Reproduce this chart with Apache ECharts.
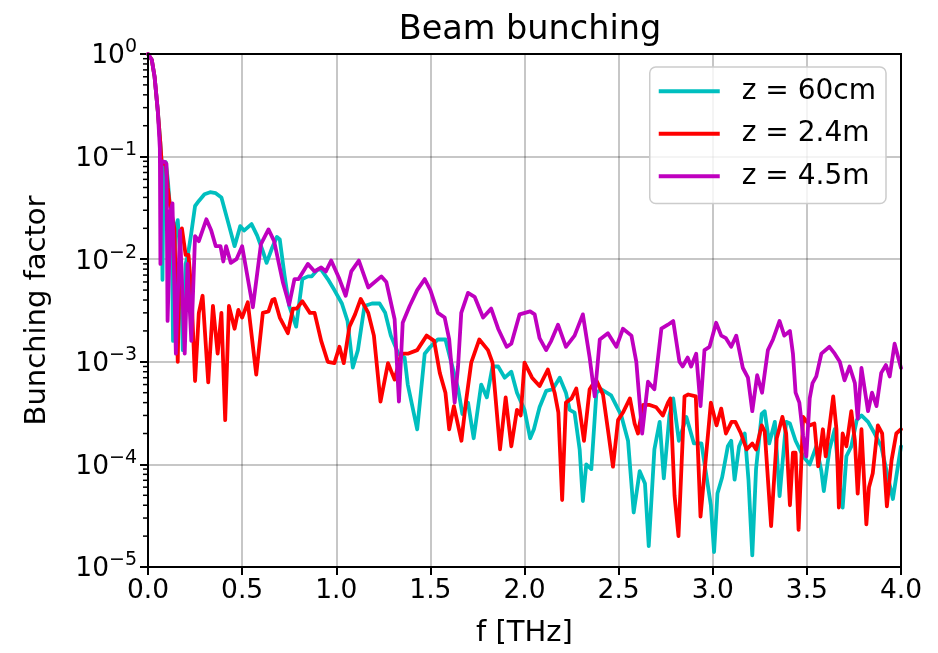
<!DOCTYPE html>
<html>
<head>
<meta charset="utf-8">
<script src="https://cdn.jsdelivr.net/npm/echarts@6/dist/echarts.min.js"></script>
<style>html,body{margin:0;padding:0;background:#fff}#c{width:938px;height:653px}</style>
</head>
<body>
<div id="c"></div>
<script>
// ---- data (f in THz, bunching factor) ----
const seriesNames = ['z = 60cm', 'z = 2.4m', 'z = 4.5m'];
const xTicks = [0, 0.5, 1.0, 1.5, 2.0, 2.5, 3.0, 3.5, 4.0];
const yDecades = [1e-5, 1e-4, 1e-3, 1e-2, 1e-1, 1];

const z60 = [[0,1],[0.01,0.97],[0.02,0.88],[0.035,0.6],[0.052,0.28],[0.065,0.14],[0.072,0.09],[0.077,0.0063],[0.083,0.085],[0.095,0.088],[0.105,0.06],[0.115,0.035],[0.125,0.03],[0.133,0.0016],[0.145,0.02],[0.158,0.024],[0.17,0.012],[0.185,0.0013],[0.2,0.009],[0.212,0.011],[0.23,0.018],[0.25,0.033],[0.27,0.037],[0.3,0.043],[0.33,0.045],[0.36,0.044],[0.39,0.04],[0.42,0.025],[0.46,0.0134],[0.49,0.021],[0.51,0.019],[0.55,0.022],[0.58,0.017],[0.61,0.012],[0.63,0.0092],[0.66,0.013],[0.685,0.0165],[0.7,0.0156],[0.725,0.007],[0.75,0.0035],[0.787,0.0022],[0.82,0.0064],[0.85,0.0068],[0.87,0.0068],[0.9,0.0079],[0.92,0.0079],[0.955,0.0064],[0.99,0.005],[1.03,0.0037],[1.06,0.0025],[1.088,0.00088],[1.115,0.0013],[1.15,0.0035],[1.19,0.0037],[1.23,0.0037],[1.26,0.003],[1.29,0.0018],[1.33,0.0012],[1.363,0.0011],[1.38,0.0006],[1.43,0.00022],[1.47,0.0012],[1.5,0.0014],[1.54,0.00165],[1.58,0.00165],[1.61,0.001],[1.647,0.00055],[1.67,0.00031],[1.7,0.0004],[1.73,0.00018],[1.77,0.0006],[1.8,0.00045],[1.83,0.0009],[1.86,0.0009],[1.895,0.0007],[1.93,0.0008],[1.96,0.0005],[2.0,0.00034],[2.03,0.00018],[2.05,0.00022],[2.08,0.00036],[2.115,0.00052],[2.15,0.00054],[2.187,0.0007],[2.22,0.0005],[2.24,0.00034],[2.266,0.00032],[2.293,0.00014],[2.31,0.000044],[2.328,0.0001],[2.355,0.00009],[2.382,0.0005],[2.408,0.00054],[2.46,0.00047],[2.514,0.0003],[2.55,0.00017],[2.58,0.000034],[2.612,0.000086],[2.64,0.000065],[2.66,0.000016],[2.69,0.00014],[2.718,0.00026],[2.74,0.000073],[2.77,0.0003],[2.79,0.00044],[2.82,0.00017],[2.86,0.00029],[2.9,0.00016],[2.94,0.00016],[2.965,0.00008],[2.99,0.00004],[3.007,0.000014],[3.025,0.000052],[3.05,0.000075],[3.08,0.00015],[3.098,0.00017],[3.116,0.000071],[3.14,0.00015],[3.17,0.0002],[3.19,0.00007],[3.21,0.000013],[3.23,0.00009],[3.26,0.00031],[3.276,0.00033],[3.3,0.00016],[3.33,0.00026],[3.355,0.000049],[3.39,0.00026],[3.41,0.00025],[3.44,0.00017],[3.48,0.00012],[3.515,0.0001],[3.55,0.00015],[3.577,0.000086],[3.59,0.000055],[3.62,0.00014],[3.648,0.00022],[3.675,0.00006],[3.69,0.000038],[3.71,0.00012],[3.736,0.00015],[3.765,0.00027],[3.79,0.0003],[3.825,0.00026],[3.86,0.0002],[3.895,0.00015],[3.93,0.000076],[3.957,0.000046],[3.975,0.000076],[4.0,0.00015]];

const z24 = [[0,1],[0.01,0.97],[0.02,0.88],[0.035,0.6],[0.052,0.28],[0.065,0.14],[0.072,0.09],[0.08,0.085],[0.095,0.085],[0.105,0.05],[0.115,0.035],[0.125,0.036],[0.14,0.02],[0.158,0.001],[0.17,0.015],[0.18,0.02],[0.2,0.011],[0.215,0.011],[0.23,0.005],[0.25,0.00065],[0.27,0.003],[0.29,0.0044],[0.32,0.00063],[0.345,0.0035],[0.37,0.0012],[0.39,0.003],[0.41,0.00027],[0.43,0.0035],[0.46,0.0021],[0.48,0.0032],[0.5,0.0027],[0.53,0.0038],[0.575,0.00075],[0.61,0.003],[0.64,0.0031],[0.66,0.004],[0.672,0.0041],[0.7,0.0027],[0.743,0.0019],[0.77,0.0033],[0.79,0.0033],[0.82,0.0039],[0.86,0.003],[0.885,0.003],[0.92,0.0016],[0.955,0.001],[0.99,0.00097],[1.017,0.0014],[1.04,0.00097],[1.07,0.0022],[1.1,0.0029],[1.13,0.0041],[1.17,0.003],[1.2,0.0018],[1.235,0.00041],[1.275,0.00097],[1.31,0.00067],[1.345,0.0012],[1.38,0.0012],[1.43,0.0013],[1.48,0.0018],[1.52,0.0016],[1.55,0.00078],[1.58,0.0005],[1.6,0.00022],[1.625,0.00037],[1.665,0.00017],[1.69,0.00042],[1.717,0.00098],[1.76,0.00165],[1.806,0.0013],[1.83,0.00098],[1.87,0.00014],[1.9,0.00045],[1.93,0.00015],[1.96,0.00034],[1.98,0.0003],[2.0,0.00098],[2.04,0.0007],[2.08,0.00058],[2.124,0.00084],[2.16,0.0005],[2.18,0.00032],[2.2,0.000045],[2.22,0.0004],[2.25,0.00044],[2.275,0.00055],[2.293,0.00034],[2.316,0.00017],[2.346,0.00054],[2.38,0.00067],[2.417,0.00048],[2.446,0.0002],[2.47,0.000095],[2.497,0.00027],[2.523,0.00032],[2.56,0.00044],[2.585,0.00025],[2.603,0.0002],[2.63,0.00038],[2.665,0.00038],[2.7,0.00036],[2.735,0.0003],[2.762,0.0004],[2.775,0.00044],[2.797,0.00005],[2.818,0.00002],[2.85,0.00046],[2.87,0.00048],[2.91,0.00046],[2.935,0.000031],[2.99,0.0004],[3.02,0.00024],[3.045,0.00035],[3.07,0.0002],[3.1,0.00026],[3.12,0.00026],[3.15,0.0002],[3.18,0.00014],[3.21,0.00016],[3.23,0.00014],[3.26,0.00024],[3.276,0.00021],[3.31,0.000025],[3.34,0.00018],[3.37,0.00029],[3.39,0.0002],[3.41,0.00004],[3.426,0.00013],[3.44,0.00013],[3.456,0.000023],[3.48,0.00029],[3.515,0.00024],[3.54,0.00025],[3.56,0.000096],[3.585,0.00022],[3.6,0.00012],[3.64,0.00046],[3.657,0.00022],[3.67,0.000038],[3.69,0.0002],[3.71,0.00015],[3.736,0.00033],[3.755,0.00017],[3.77,0.000052],[3.79,0.00022],[3.816,0.000026],[3.83,0.00006],[3.85,0.000082],[3.877,0.00024],[3.9,0.0002],[3.925,0.000039],[3.95,0.00011],[3.975,0.0002],[4.0,0.00022]];

const z45 = [[0,1],[0.01,0.97],[0.02,0.88],[0.035,0.6],[0.052,0.28],[0.063,0.12],[0.066,0.009],[0.072,0.09],[0.09,0.089],[0.098,0.085],[0.104,0.0025],[0.12,0.03],[0.13,0.035],[0.148,0.0012],[0.17,0.019],[0.195,0.0012],[0.21,0.009],[0.23,0.0016],[0.25,0.0168],[0.27,0.015],[0.31,0.0245],[0.336,0.019],[0.36,0.0134],[0.385,0.0134],[0.4,0.0095],[0.415,0.0134],[0.44,0.0092],[0.47,0.01],[0.5,0.0134],[0.557,0.0034],[0.6,0.014],[0.64,0.0195],[0.67,0.015],[0.716,0.006],[0.75,0.0036],[0.778,0.0064],[0.8,0.0064],[0.849,0.009],[0.885,0.0076],[0.92,0.0083],[0.945,0.0076],[0.973,0.0097],[1.017,0.0064],[1.05,0.0044],[1.08,0.0076],[1.12,0.0097],[1.17,0.0053],[1.24,0.0068],[1.266,0.006],[1.31,0.0026],[1.333,0.00041],[1.353,0.0024],[1.39,0.0035],[1.43,0.005],[1.47,0.0064],[1.5,0.005],[1.54,0.003],[1.576,0.0027],[1.6,0.00165],[1.629,0.0004],[1.647,0.0009],[1.664,0.003],[1.7,0.0047],[1.735,0.0043],[1.78,0.0027],[1.823,0.0033],[1.86,0.0021],[1.905,0.0014],[1.93,0.0015],[1.974,0.0029],[2.03,0.0031],[2.054,0.0029],[2.08,0.0017],[2.115,0.0013],[2.142,0.0016],[2.178,0.0023],[2.22,0.0014],[2.266,0.0018],[2.31,0.0029],[2.346,0.0011],[2.373,0.00046],[2.4,0.00165],[2.443,0.0019],[2.488,0.0014],[2.523,0.0021],[2.568,0.0018],[2.594,0.001],[2.625,0.0002],[2.656,0.00064],[2.69,0.00054],[2.727,0.0021],[2.762,0.0023],[2.79,0.0025],[2.823,0.001],[2.84,0.0009],[2.867,0.0011],[2.885,0.0009],[2.912,0.0012],[2.935,0.00037],[2.956,0.0013],[2.983,0.0014],[3.018,0.0024],[3.045,0.0018],[3.07,0.0017],[3.098,0.0014],[3.125,0.0018],[3.16,0.00087],[3.187,0.0007],[3.21,0.00033],[3.236,0.00074],[3.262,0.0005],[3.293,0.0013],[3.32,0.00165],[3.355,0.0025],[3.38,0.0018],[3.41,0.002],[3.426,0.0012],[3.44,0.0005],[3.46,0.0004],[3.48,0.00019],[3.497,0.00012],[3.515,0.00044],[3.53,0.00062],[3.55,0.00072],[3.577,0.0012],[3.62,0.0014],[3.648,0.0012],[3.675,0.001],[3.7,0.00066],[3.727,0.0009],[3.755,0.00062],[3.77,0.00028],[3.79,0.00087],[3.825,0.00033],[3.846,0.0005],[3.87,0.00037],[3.895,0.00078],[3.92,0.00093],[3.94,0.00072],[3.966,0.0015],[4.0,0.00087]];

const colors = ['#00bfbf', '#ff0000', '#bf00bf'];

// minor tick positions on the log axis (2..9 x each decade)
const minorMult = [2,3,4,5,6,7,8,9];
const minorVals = [];
for (let i = 0; i < yDecades.length - 1; i++) for (const m of minorMult) minorVals.push([0, m * yDecades[i]]);

const FONT = 'DejaVu Sans';
const chart = echarts.init(document.getElementById('c'), null, {renderer: 'canvas'});

function sup(v) {
  const e = Math.round(Math.log10(v));
  const s = e < 0 ? '\u2212' + (-e) : String(e);
  return '{b|10}{s|' + s + '}';
}

const lineSeries = [z60, z24, z45].map((d, i) => ({
  name: seriesNames[i], type: 'line', data: d, showSymbol: false, symbol: 'none',
  lineStyle: {color: colors[i], width: 3.8, join: 'round', cap: 'round'}, itemStyle: {color: colors[i]},
  z: 3 + i, animation: false, clip: true
}));

chart.setOption({
  animation: false,
  backgroundColor: '#fff',
  title: {text: 'Beam bunching', left: 525, top: 8, textAlign: 'center',
    textStyle: {fontFamily: FONT, fontSize: 33.5, fontWeight: 'normal', color: '#000'}},
  grid: {left: 148, top: 54, width: 753, height: 513, show: true, borderColor: '#000', borderWidth: 2, backgroundColor: 'transparent', z: 10},
  legend: {
    orient: 'vertical', right: 52, top: 67, data: seriesNames,
    icon: 'rect', itemWidth: 61, itemHeight: 3.8, itemGap: 12,
    backgroundColor: 'rgba(255,255,255,0.8)', borderColor: '#cccccc', borderWidth: 1.5, borderRadius: 6,
    padding: [9, 10, 12, 9],
    textStyle: {fontFamily: FONT, fontSize: 28, color: '#000', lineHeight: 30.5, padding: [0, 0, 0, 17]}
  },
  xAxis: {
    type: 'value', min: 0, max: 4, interval: 0.5,
    name: 'f [THz]', nameLocation: 'middle', nameGap: 52,
    nameTextStyle: {fontFamily: FONT, fontSize: 29, color: '#000'},
    axisLine: {show: true, lineStyle: {color: '#000', width: 2}},
    axisTick: {show: true, inside: false, length: 8, lineStyle: {color: '#000', width: 2}},
    axisLabel: {fontFamily: FONT, fontSize: 26.5, color: '#000', margin: 11, formatter: v => v.toFixed(1)},
    splitLine: {show: true, lineStyle: {color: 'rgba(0,0,0,0.22)', width: 2}}
  },
  yAxis: {
    type: 'log', logBase: 10, min: 1e-5, max: 1, interval: 1,
    name: 'Bunching factor', nameLocation: 'middle', nameGap: 96,
    nameTextStyle: {fontFamily: FONT, fontSize: 29, color: '#000'},
    axisLine: {show: true, lineStyle: {color: '#000', width: 2}},
    axisTick: {show: true, inside: false, length: 8, lineStyle: {color: '#000', width: 2}},
    axisLabel: {
      color: '#000', margin: 11, formatter: sup,
      rich: {
        b: {fontFamily: FONT, fontSize: 26.5, color: '#000', verticalAlign: 'bottom'},
        s: {fontFamily: FONT, fontSize: 19, color: '#000', verticalAlign: 'bottom', padding: [0, 0, 13, 0]}
      }
    },
    splitLine: {show: true, lineStyle: {color: 'rgba(0,0,0,0.22)', width: 2}}
  },
  series: lineSeries.concat([{
    type: 'custom', silent: true, clip: false, z: 20, data: minorVals,
    renderItem: (params, api) => {
      const p = api.coord([api.value(0), api.value(1)]);
      return {type: 'line', shape: {x1: p[0] - 5, y1: p[1], x2: p[0], y2: p[1]},
        style: {stroke: '#000', lineWidth: 1.5}};
    }
  }])
});
</script>
</body>
</html>
